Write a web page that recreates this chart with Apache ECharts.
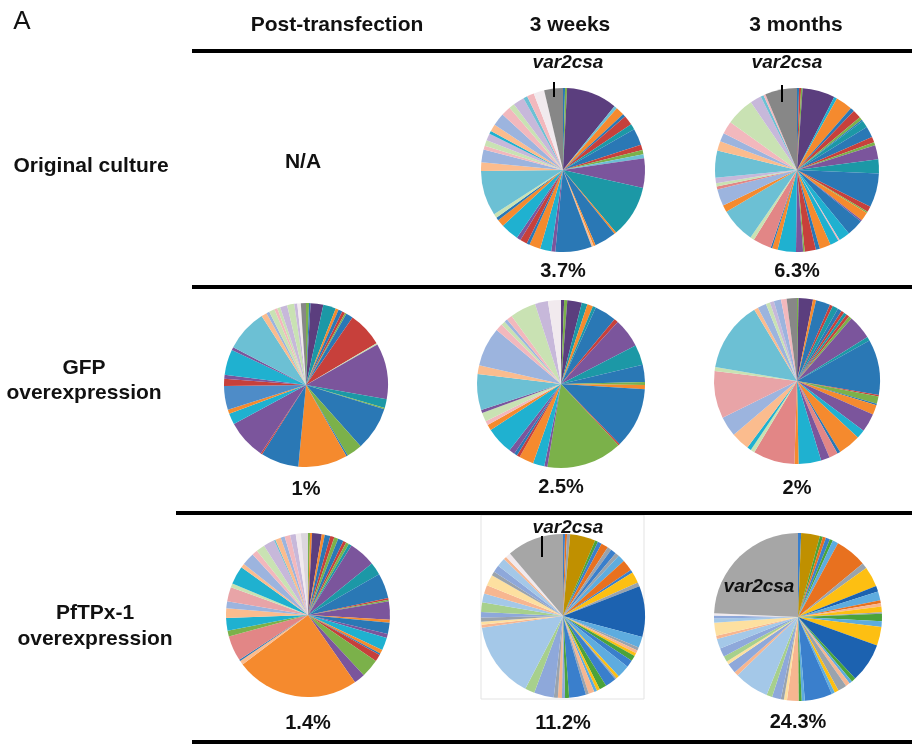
<!DOCTYPE html>
<html>
<head>
<meta charset="utf-8">
<script src="https://cdn.jsdelivr.net/npm/echarts@6/dist/echarts.min.js"></script>
<style>
  html, body { margin: 0; padding: 0; background: #ffffff; }
  #chart { width: 916px; height: 745px; }
</style>
</head>
<body>
<div id="chart"></div>
<script>
// Column and row headings
const panelLetter = 'A';
const timepoints = ['Post-transfection', '3 weeks', '3 months'];
const conditions = ['Original culture', 'GFP\noverexpression', 'PfTPx-1\noverexpression'];
const geneName = 'var2csa';
const notAvailable = 'N/A';

// Share of var gene transcripts (%) per culture, clockwise from 12 o'clock.
// The last entry of each list is var2csa.
const originalWeeks3 = [0.4, 0.4, 10, 0.6, 1.7, 0.6, 1.9, 1.1, 3.3, 1.1, 0.8, 0.8, 5.8, 10.3, 0.4, 4.3, 0.4, 0.4, 7.2, 0.8, 2.2, 2.2, 0.6, 1.4, 0.8, 3.6, 1.4, 0.6, 0.8, 8.9, 1.7, 2.5, 0.8, 1.1, 1.4, 0.6, 1.4, 2.5, 1.9, 1.1, 2.2, 0.8, 1.4, 2.1, 3.7];
const originalMonths3 = [0.4, 0.4, 0.3, 6.4, 0.6, 3.3, 0.8, 1.7, 0.6, 0.3, 1.4, 2.2, 1.1, 0.6, 2.8, 2.8, 6.7, 1.1, 0.3, 1.7, 0.3, 3.3, 2.2, 0.3, 1.7, 2.2, 0.8, 2.2, 0.3, 1.4, 3.6, 1.1, 0.3, 3.6, 0.8, 6.9, 1.4, 3.3, 0.6, 0.6, 1.1, 5.3, 1.9, 1.7, 2.5, 5.6, 2.2, 0.6, 0.4, 6.3];
const gfpPost = [0.6, 0.3, 2.5, 2.5, 0.6, 0.8, 0.6, 0.3, 1.4, 6.9, 0.3, 11.0, 1.7, 0.3, 8.6, 3.1, 0.3, 9.7, 7.5, 0.3, 7.8, 2.2, 0.8, 4.7, 1.4, 0.8, 5.0, 0.6, 8.3, 1.1, 0.6, 1.1, 0.6, 0.6, 1.4, 1.4, 0.6, 0.7, 1];
const gfpWeeks3 = [0.6, 0.6, 2.8, 1.1, 1.1, 0.6, 4.2, 0.8, 5.6, 3.9, 3.3, 0.6, 0.8, 11.7, 0.3, 14.6, 0.6, 2.2, 2.8, 0.6, 0.6, 1.1, 5.3, 1.1, 0.8, 1.7, 0.6, 6.9, 1.7, 7.5, 1.4, 0.8, 0.6, 1.1, 5.0, 2.5, 2.5];
const gfpMonths3 = [0.3, 2.8, 0.6, 2.8, 0.6, 1.1, 0.8, 0.6, 0.6, 0.6, 0.6, 4.7, 0.8, 10.8, 0.3, 1.4, 0.3, 1.9, 3.6, 1.7, 4.4, 0.6, 1.7, 1.7, 4.4, 0.8, 8.1, 0.8, 0.8, 3.6, 3.9, 9.2, 0.8, 13.7, 0.8, 1.7, 0.8, 0.8, 1.4, 1.1, 2];
const tpxPost = [0.4, 0.4, 1.9, 0.6, 1.1, 0.8, 0.8, 1.1, 0.6, 0.6, 0.6, 5.3, 2.5, 5.0, 0.3, 0.3, 3.6, 0.6, 2.2, 0.8, 2.5, 0.8, 0.3, 1.4, 3.6, 2.2, 24.4, 0.8, 0.3, 5.0, 1.1, 2.5, 1.9, 1.4, 2.8, 0.8, 3.6, 0.8, 2.5, 1.1, 1.7, 2.2, 0.3, 1.1, 0.8, 1.1, 1.1, 1.0, 1.4];
const tpxWeeks3 = [0.4, 0.4, 0.6, 5.0, 0.6, 0.8, 1.4, 0.8, 1.1, 0.8, 1.4, 2.2, 0.6, 2.2, 0.8, 10.0, 2.2, 0.6, 0.6, 0.6, 1.1, 1.4, 2.5, 0.6, 0.3, 2.2, 1.4, 0.6, 0.6, 1.1, 0.6, 3.3, 0.8, 0.6, 0.8, 0.8, 3.9, 1.9, 15.1, 0.6, 0.6, 0.8, 1.1, 1.9, 1.7, 1.7, 2.2, 0.8, 1.4, 1.7, 0.6, 1.0, 11.2];
const tpxMonths3 = [0.6, 3.6, 0.6, 0.6, 0.8, 0.6, 1.1, 6.1, 1.1, 3.9, 1.1, 1.7, 0.6, 0.6, 1.1, 0.3, 1.4, 1.1, 3.6, 7.6, 0.8, 0.6, 0.8, 1.7, 0.8, 0.6, 5.3, 0.6, 0.6, 2.2, 0.6, 0.6, 1.7, 1.1, 6.7, 0.8, 1.9, 0.6, 1.1, 1.7, 1.9, 0.6, 2.5, 0.8, 0.6, 0.4, 24.3];

// Slice colour keys, one per entry of the lists above
const originalWeeks3Colors = ['BL','GR','DP','LB','OR','BL','RD','TE','BL','RD','GR','LB','PU','TE','OR','BL','OR','PE','BL','PU','CY','OR','BL','RD','PU','CY','OR','BL','LG','LB','PE','PW','PK','LG','LP','CY','PE','PW','PK','LG','LP','LB','PK','WH','GY'];
const originalMonths3Colors = ['BL','RD','GR','DP','CY','OR','BL','RD','GR','BL','TE','BL','RD','GR','PU','TE','BL','RD','GR','OR','PU','BL','CY','PK','CY','OR','BL','RD','GR','PU','CY','OR','BL','SA','LG','LB','OR','PW','SA','LG','LP','LB','PE','PW','PK','LG','LP','LB','PK','GY'];
const gfpPostColors = ['GR','BL','DP','TE','OR','BL','RD','GR','BL','RD','LG','PU','TE','GR','BL','GR','BL','OR','BL','RD','PU','CY','OR','MB','RD','PU','CY','PU','LB','PE','PW','LG','PK','LG','LP','LG','LP','WH','GY'];
const gfpWeeks3Colors = ['DP','GR','DP','TE','OR','TE','BL','RD','PU','TE','BL','GR','OR','BL','RD','GR','PU','CY','OR','RD','BL','PU','CY','OR','PK','LG','PU','LB','PE','PW','PK','LG','PW','PK','LG','LP','WH'];
const gfpMonths3Colors = ['GR','DP','OR','BL','RD','TE','BL','RD','TE','RD','GR','PU','TE','BL','RD','GR','BL','OR','PU','CY','OR','BL','SA','PU','CY','OR','SA','LG','CY','PE','PW','RO','LG','LB','PE','PW','LG','LP','PW','PK','GY'];
const tpxPostColors = ['GR','OR','DP','OR','BL','RD','GR','BL','RD','GR','TE','PU','TE','BL','RD','GR','PU','OR','BL','PU','CY','OR','BL','RD','GR','PU','OR','PE','BL','SA','GR','CY','PE','PW','RO','LG','CY','PE','PW','PK','LG','LP','LB','PE','PW','PK','LP','WH','LGY'];
const tpxWeeks3Colors = ['BL2','OR2','SL','GD','GR2','BL2','OR2','SL','BL2','SL','LB2','OR2','BL2','YE','SL','DBL','LB2','SL','PE2','YE','GR2','BL2','LB2','YE','SL','BL2','GR2','YE','LB2','PE2','SL','BL2','GR2','PB','PE2','SL','PB','LGR','LBL','PE2','LY','SL','PB','LGR','LBL','PE2','LY','SL','PB','LBL','PE2','WH','GY2'];
const tpxMonths3Colors = ['BL2','GD','GR2','OR2','BL2','GR2','LB2','OR2','SL','YE','DBL','LB2','OR2','PE2','YE','SL','GR2','LB2','YE','DBL','GR2','LB2','PE2','SL','YE','LB2','BL2','LB2','GR2','PE2','LY','SL','PB','LGR','LBL','PE2','PB','LY','LGR','PB','LBL','PE2','LY','LBL','PB','WH','GY2'];

const palette = {
  DP: '#5b3e7e', PU: '#7b559c', BL: '#2a78b5', TE: '#1c98a6', CY: '#1fb1d0',
  LB: '#6cc0d4', OR: '#f58a2e', RD: '#c7403b', GR: '#7bb14a', LG: '#c9e2b3',
  LP: '#c7b8da', PK: '#f2b8bd', RO: '#e8a4a7', SA: '#e28686', PE: '#fbbc8e',
  PW: '#9cb4de', MB: '#4e8cc8', GY: '#878787', WH: '#f1eaee', LGY: '#dcd6de',
  GD: '#c09000', OR2: '#e8711f', BL2: '#3a7fcc', DBL: '#1c62b0', GR2: '#4ba33a',
  YE: '#fdbf12', LB2: '#5eacdf', LBL: '#a4c8e8', PE2: '#f7b690', LY: '#fde0a0',
  PB: '#8ea8da', LGR: '#a7d08c', SL: '#9aa3ad', GY2: '#a6a6a6'
};

// Where each pie sits on the page
const pies = [
  { values: originalWeeks3, colors: originalWeeks3Colors, center: [563, 170], r: 82, labelY: 271 },
  { values: originalMonths3, colors: originalMonths3Colors, center: [797, 170], r: 82, labelY: 271 },
  { values: gfpPost, colors: gfpPostColors, center: [306, 385], r: 82, labelY: 489 },
  { values: gfpWeeks3, colors: gfpWeeks3Colors, center: [561, 384], r: 84, labelY: 487 },
  { values: gfpMonths3, colors: gfpMonths3Colors, center: [797, 381], r: 83, labelY: 488 },
  { values: tpxPost, colors: tpxPostColors, center: [308, 615], r: 82, labelY: 723 },
  { values: tpxWeeks3, colors: tpxWeeks3Colors, center: [563, 616], r: 82, labelY: 723 },
  { values: tpxMonths3, colors: tpxMonths3Colors, center: [798, 617], r: 84, labelY: 722 }
];

const FONT = '"Liberation Sans", Arial, Helvetica, sans-serif';

const series = pies.map(function (p) {
  return {
    type: 'pie',
    center: p.center,
    radius: [0, p.r],
    startAngle: 90,
    clockwise: true,
    silent: true,
    animation: false,
    label: { show: false },
    labelLine: { show: false },
    itemStyle: { borderWidth: 0 },
    data: p.values.map(function (v, i) {
      return {
        value: v,
        name: i === p.values.length - 1 ? geneName : 'var' + (i + 1),
        itemStyle: { color: palette[p.colors[i]] }
      };
    })
  };
});

function txt(x, y, s, opts) {
  return {
    type: 'text', x: x, y: y, z: 100,
    style: Object.assign({
      text: s, fill: '#111', font: 'bold 21px ' + FONT,
      textAlign: 'center', textVerticalAlign: 'middle'
    }, opts || {})
  };
}
function rule(x1, y, x2, w) {
  return { type: 'line', z: 100, shape: { x1: x1, y1: y, x2: x2, y2: y }, style: { stroke: '#000', lineWidth: w } };
}
function tick(x, y1, y2) {
  return { type: 'line', z: 100, shape: { x1: x, y1: y1, x2: x, y2: y2 }, style: { stroke: '#000', lineWidth: 2 } };
}

const graphics = [
  txt(22, 22, panelLetter, { font: '26px ' + FONT, fill: '#111' }),
  txt(337, 25, timepoints[0]),
  txt(570, 25, timepoints[1]),
  txt(796, 25, timepoints[2]),
  rule(192, 51, 912, 4),
  rule(192, 287, 912, 4),
  rule(176, 513, 912, 4),
  rule(192, 742, 912, 4),
  txt(91, 166, conditions[0]),
  txt(84, 381, conditions[1], { lineHeight: 25 }),
  txt(95, 626, conditions[2], { lineHeight: 26 }),
  txt(303, 162, notAvailable),
  // light frame around the 3-week PfTPx-1 pie
  { type: 'rect', z: 1, shape: { x: 481, y: 515, width: 163, height: 184 }, style: { fill: 'none', stroke: '#e3e3e3', lineWidth: 1 } },
  // var2csa call-outs
  txt(568, 63, geneName, { font: 'italic bold 19px ' + FONT }),
  tick(554, 82, 97),
  txt(787, 63, geneName, { font: 'italic bold 19px ' + FONT }),
  tick(782, 85, 102),
  txt(568, 528, geneName, { font: 'italic bold 19px ' + FONT }),
  tick(542, 536, 557),
  txt(759, 587, geneName, { font: 'italic bold 19px ' + FONT })
];

// Percentage of var2csa under each pie, taken from the last value of its list
pies.forEach(function (p) {
  const v = p.values[p.values.length - 1];
  graphics.push(txt(p.center[0], p.labelY, v + '%', { font: 'bold 20px ' + FONT }));
});

const chart = echarts.init(document.getElementById('chart'), null, { renderer: 'canvas' });
chart.setOption({
  backgroundColor: '#ffffff',
  animation: false,
  series: series,
  graphic: { elements: graphics }
});
</script>
</body>
</html>
